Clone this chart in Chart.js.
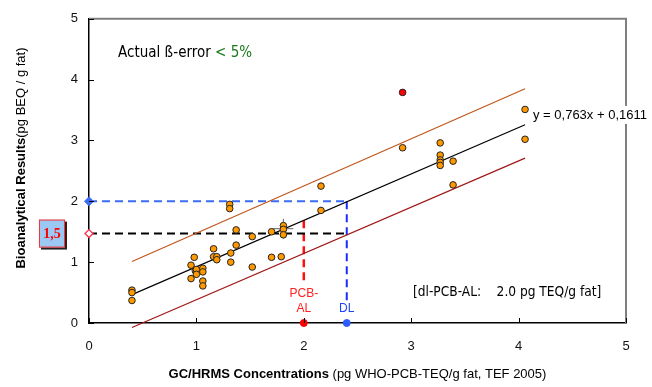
<!DOCTYPE html>
<html>
<head>
<meta charset="utf-8">
<script src="https://cdn.jsdelivr.net/npm/chart.js@4.4.1/dist/chart.umd.min.js"></script>
<style>
  html, body { margin: 0; padding: 0; background: #fff; }
  #wrap { width: 652px; height: 387px; }
</style>
</head>
<body>
<div id="wrap"><canvas id="chart" width="652" height="387"></canvas></div>
<script>
// samples: GC/HRMS (x) vs bioanalytical (y)
const gcX = [0.40, 0.40, 0.40, 1.31, 1.31, 1.37, 0.98, 0.95, 0.99, 1.00, 1.00, 0.95,
  1.06, 1.06, 1.06, 1.06, 1.16, 1.16, 1.19, 1.19, 1.37, 1.32, 1.32, 1.52, 1.52,
  1.70, 1.70, 1.79, 1.81, 1.81, 1.81, 2.16, 2.16, 2.92, 3.27, 3.27, 3.27, 3.27,
  3.27, 3.39, 3.39, 4.06, 4.06];
const bioY = [0.54, 0.50, 0.37, 1.95, 1.88, 1.53, 1.08, 0.95, 0.86, 0.88, 0.80, 0.73,
  0.90, 0.84, 0.69, 0.61, 1.22, 1.09, 1.09, 1.04, 1.28, 1.15, 1.00, 1.42, 0.92,
  1.50, 1.08, 1.09, 1.60, 1.54, 1.45, 1.85, 2.25, 2.88, 2.96, 2.76, 2.68, 2.64,
  2.59, 2.66, 2.27, 3.51, 3.02];
const outlierX = [2.92];
const outlierY = [3.79];
const meanX = [1.81];
const meanY = [1.55];

// regression and prediction band (end points)
const lineX = [0.40, 4.06];
const regY = [0.466, 3.259];
const upperY = [1.01, 3.85];
const lowerY = [-0.075, 2.71];

const alLevel = 2.0;     // PCB-AL
const dlLevel = 2.4;     // DL
const cutOff = 1.47;     // 1,5
const dlY = 2.0;
const alY = 1.687;
const alLineEnd = 0.67;  // dashed lines stop above their labels
const dlLineEnd = 0.37;

const xTicks = [0, 1, 2, 3, 4, 5];
const yTicks = [0, 1, 2, 3, 4, 5];

const pts = (xs, ys) => xs.map((x, i) => ({ x: x, y: ys[i] }));

const AXIS_FONT = '"Liberation Sans", Arial, sans-serif';
const NOTE_FONT = '"DejaVu Sans Condensed", "DejaVu Sans", sans-serif';

const extras = {
  id: 'extras',
  afterDatasetsDraw(chart) {
    const { ctx, chartArea: a, scales: { x, y } } = chart;
    ctx.save();
    // top / right frame
    ctx.strokeStyle = '#7f7f7f';
    ctx.lineWidth = 2;
    ctx.beginPath();
    ctx.moveTo(a.left, a.top);
    ctx.lineTo(a.right, a.top);
    ctx.lineTo(a.right, a.bottom);
    ctx.stroke();

    // inward ticks
    ctx.strokeStyle = '#000';
    ctx.lineWidth = 1;
    ctx.beginPath();
    xTicks.forEach(v => {
      const px = Math.round(x.getPixelForValue(v)) + 0.5;
      ctx.moveTo(px, a.bottom);
      ctx.lineTo(px, a.bottom - 5);
    });
    yTicks.forEach(v => {
      const py = Math.round(y.getPixelForValue(v)) + 0.5;
      ctx.moveTo(a.left, py);
      ctx.lineTo(a.left + 5, py);
    });
    ctx.stroke();

    // notes
    ctx.textBaseline = 'middle';
    ctx.textAlign = 'left';
    ctx.font = '15px ' + NOTE_FONT;
    const t1 = 'Actual ß-error ';
    ctx.fillStyle = '#000';
    ctx.fillText(t1, 118, 53);
    ctx.fillStyle = '#1a7a1a';
    ctx.fillText('< 5%', 118 + ctx.measureText(t1).width, 53);

    ctx.fillStyle = '#000';
    ctx.font = '13.6px ' + NOTE_FONT;
    ctx.fillText('[dl-PCB-AL:    2.0 pg TEQ/g fat]', 413, 292);

    // regression equation
    ctx.font = '13px ' + AXIS_FONT;
    const eq = 'y = 0,763x + 0,1611';
    const ew = ctx.measureText(eq).width;
    const ey = y.getPixelForValue(3.42);
    ctx.fillStyle = '#fff';
    ctx.fillRect(531, ey - 9, ew + 4, 18);
    ctx.fillStyle = '#000';
    ctx.fillText(eq, 533, ey);

    // PCB-AL / DL labels
    ctx.textAlign = 'center';
    ctx.font = '12px ' + AXIS_FONT;
    ctx.fillStyle = '#ff2020';
    const ax = x.getPixelForValue(alLevel);
    ctx.fillText('PCB-', ax, 294);
    ctx.fillText('AL', ax, 309);
    ctx.fillStyle = '#2040ff';
    ctx.fillText('DL', x.getPixelForValue(dlLevel), 309);

    // 1,5 box
    const by = y.getPixelForValue(cutOff);
    ctx.fillStyle = '#222';
    ctx.fillRect(41, by - 12, 26, 28);
    ctx.fillStyle = '#9cc8f4';
    ctx.fillRect(39, by - 14, 26, 28);
    ctx.strokeStyle = '#ff3030';
    ctx.lineWidth = 1;
    ctx.strokeRect(39.5, by - 13.5, 25, 27);
    ctx.fillStyle = '#ff0000';
    ctx.font = 'bold 14px "Liberation Serif", "Times New Roman", serif';
    ctx.fillText('1,5', 52, by + 1);

    // axis titles
    ctx.fillStyle = '#000';
    ctx.textAlign = 'left';
    const b1 = 'GC/HRMS Concentrations';
    const n1 = ' (pg WHO-PCB-TEQ/g fat, TEF 2005)';
    ctx.font = 'bold 13px ' + AXIS_FONT;
    const wb1 = ctx.measureText(b1).width;
    ctx.font = '13px ' + AXIS_FONT;
    const wn1 = ctx.measureText(n1).width;
    const cx = (a.left + a.right) / 2;
    let sx = cx - (wb1 + wn1) / 2;
    ctx.font = 'bold 13px ' + AXIS_FONT;
    ctx.fillText(b1, sx, 374);
    ctx.font = '13px ' + AXIS_FONT;
    ctx.fillText(n1, sx + wb1, 374);

    const b2 = 'Bioanalytical Results';
    const n2 = '(pg BEQ / g fat)';
    ctx.font = 'bold 13px ' + AXIS_FONT;
    const wb2 = ctx.measureText(b2).width;
    ctx.font = '13px ' + AXIS_FONT;
    const wn2 = ctx.measureText(n2).width;
    ctx.translate(21, 158);
    ctx.rotate(-Math.PI / 2);
    sx = -(wb2 + wn2) / 2;
    ctx.font = 'bold 13px ' + AXIS_FONT;
    ctx.fillText(b2, sx, 0);
    ctx.font = '13px ' + AXIS_FONT;
    ctx.fillText(n2, sx + wb2, 0);
    ctx.restore();
  }
};

const dashLine = (data, color, width) => ({
  data: data, showLine: true, borderColor: color, borderWidth: width,
  borderDash: [8, 5], pointRadius: 0, clip: false, order: 6
});

new Chart(document.getElementById('chart'), {
  type: 'scatter',
  data: {
    datasets: [
      { data: pts(gcX, bioY), backgroundColor: '#ff9900', borderColor: '#222',
        borderWidth: 1, pointRadius: 3.3, order: 1 },
      { data: pts(outlierX, outlierY), backgroundColor: '#ff0000', borderColor: '#222',
        borderWidth: 1, pointRadius: 3.3, order: 1 },
      { data: pts(meanX, meanY), pointStyle: 'cross', pointRadius: 10,
        borderColor: '#808080', borderWidth: 1.2, order: 2 },
      { data: pts(lineX, regY), showLine: true, borderColor: '#000', borderWidth: 1.2,
        pointRadius: 0, order: 4 },
      { data: pts(lineX, upperY), showLine: true, borderColor: '#c0561a', borderWidth: 1.2,
        pointRadius: 0, order: 4 },
      { data: pts(lineX, lowerY), showLine: true, borderColor: '#a01818', borderWidth: 1.2,
        pointRadius: 0, clip: false, order: 4 },
      dashLine([{ x: 0, y: dlY }, { x: dlLevel, y: dlY }], '#3a6cf4', 2),
      dashLine([{ x: dlLevel, y: dlY }, { x: dlLevel, y: dlLineEnd }], '#1a2cff', 2),
      dashLine([{ x: 0, y: cutOff }, { x: dlLevel, y: cutOff }], '#000', 2),
      dashLine([{ x: alLevel, y: alY }, { x: alLevel, y: alLineEnd }], '#ff1010', 2.5),
      { data: [{ x: 0, y: dlY }], pointStyle: 'rectRot', pointRadius: 4.5,
        backgroundColor: '#3a6cf4', borderColor: '#3a6cf4', clip: false, order: 0 },
      { data: [{ x: 0, y: cutOff }], pointStyle: 'rectRot', pointRadius: 4,
        backgroundColor: '#fff', borderColor: '#ff3050', borderWidth: 1.3, clip: false, order: 0 },
      { data: [{ x: alLevel, y: 0 }], pointRadius: 3.5, backgroundColor: '#ff0000',
        borderColor: '#ff0000', clip: false, order: 0 },
      { data: [{ x: dlLevel, y: 0 }], pointRadius: 3.5, backgroundColor: '#2a5cff',
        borderColor: '#2a5cff', clip: false, order: 0 }
    ]
  },
  options: {
    responsive: false,
    animation: false,
    events: [],
    layout: { padding: { top: 13, right: 26, left: 0, bottom: 0 } },
    plugins: { legend: { display: false }, tooltip: { enabled: false } },
    scales: {
      x: {
        type: 'linear', min: 0, max: 5,
        afterFit: s => { s.height = 64; },
        afterBuildTicks: s => { s.ticks = xTicks.map(v => ({ value: v })); },
        grid: { drawOnChartArea: false, drawTicks: false },
        border: { color: '#000', width: 1.5 },
        ticks: { padding: 16, color: '#111', font: { family: AXIS_FONT, size: 13 } }
      },
      y: {
        type: 'linear', min: 0, max: 5,
        afterFit: s => { s.width = 89; },
        afterBuildTicks: s => { s.ticks = yTicks.map(v => ({ value: v })); },
        grid: { drawOnChartArea: false, drawTicks: false },
        border: { color: '#000', width: 1.5 },
        ticks: { padding: 11, color: '#111', font: { family: AXIS_FONT, size: 13 } }
      }
    }
  },
  plugins: [extras]
});
</script>
</body>
</html>
